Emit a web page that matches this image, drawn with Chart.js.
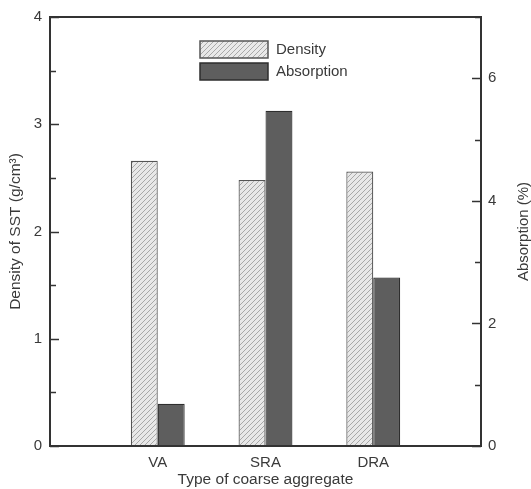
<!DOCTYPE html>
<html>
<head>
<meta charset="utf-8">
<script src="https://cdn.jsdelivr.net/npm/chart.js@4.4.1/dist/chart.umd.min.js"></script>
<style>
  html, body { margin: 0; padding: 0; background: #fff; }
  #wrap { width: 531px; height: 489px; position: relative; }
</style>
</head>
<body>
<div id="wrap"><canvas id="chart"></canvas></div>
<script>
// données
const categories = ['VA', 'SRA', 'DRA'];
const densityValues = [2.66, 2.48, 2.56];       // g/cm3, axe gauche
const absorptionValues = [0.69, 5.47, 2.75];    // %, axe droit
const densityTicks = [0, 1, 2, 3, 4];
const absorptionTicks = [0, 2, 4, 6];

// une case vide de chaque côté pour caler les groupes comme sur l'original
const labels = [''].concat(categories, ['']);
function pad(values) {
  return [null].concat(values, [null]);
}

// motif hachuré pour la densité
function makeHatch() {
  var c = document.createElement('canvas');
  c.width = 5;
  c.height = 5;
  var g = c.getContext('2d');
  g.fillStyle = '#e8e8e8';
  g.fillRect(0, 0, 5, 5);
  g.strokeStyle = '#a8a8a8';
  g.lineWidth = 1;
  g.beginPath();
  g.moveTo(0, 5); g.lineTo(5, 0);
  g.moveTo(-1, 1); g.lineTo(1, -1);
  g.moveTo(4, 6); g.lineTo(6, 4);
  g.stroke();
  return g.createPattern(c, 'repeat');
}

const hatch = makeHatch();
const axisColor = '#333';
const textColor = '#3a3a3a';
const fontFamily = '"Liberation Sans", Arial, sans-serif';

// cadre, graduations vers l'intérieur, légende et titre de droite
const framePlugin = {
  id: 'frame',
  afterDraw(chart) {
    const ctx = chart.ctx;
    const a = chart.chartArea;
    ctx.save();
    ctx.strokeStyle = axisColor;
    ctx.lineWidth = 2;
    ctx.strokeRect(a.left, a.top, a.right - a.left, a.bottom - a.top);

    ctx.lineWidth = 1.5;
    chart.scales.y.ticks.forEach(t => {
      const py = Math.round(chart.scales.y.getPixelForValue(t.value)) + 0.5;
      const len = densityTicks.includes(t.value) ? 9 : 6;
      ctx.beginPath();
      ctx.moveTo(a.left, py);
      ctx.lineTo(a.left + len, py);
      ctx.stroke();
    });
    chart.scales.y1.ticks.forEach(t => {
      const py = Math.round(chart.scales.y1.getPixelForValue(t.value)) + 0.5;
      const len = absorptionTicks.includes(t.value) ? 9 : 6;
      ctx.beginPath();
      ctx.moveTo(a.right, py);
      ctx.lineTo(a.right - len, py);
      ctx.stroke();
    });

    // légende
    const lx = a.left + 150;
    const items = [
      { text: chart.data.datasets[0].label, fill: hatch, border: '#555', top: 41 },
      { text: chart.data.datasets[1].label, fill: '#5e5e5e', border: '#2e2e2e', top: 63 }
    ];
    ctx.font = '15px ' + fontFamily;
    ctx.textBaseline = 'middle';
    ctx.textAlign = 'left';
    items.forEach(it => {
      ctx.fillStyle = it.fill;
      ctx.fillRect(lx, it.top, 68, 17);
      ctx.strokeStyle = it.border;
      ctx.lineWidth = 1.5;
      ctx.strokeRect(lx, it.top, 68, 17);
      ctx.fillStyle = textColor;
      ctx.fillText(it.text, lx + 76, it.top + 9);
    });

    // titre de l'axe droit, lu de bas en haut
    ctx.translate(524, (a.top + a.bottom) / 2);
    ctx.rotate(-Math.PI / 2);
    ctx.textAlign = 'center';
    ctx.font = '15px ' + fontFamily;
    ctx.fillText('Absorption (%)', 0, 0);
    ctx.restore();
  }
};

window.addEventListener('load', function() {
  var ctx = document.getElementById('chart').getContext('2d');
  new Chart(ctx, {
    type: 'bar',
    data: {
      labels: labels,
      datasets: [{
        label: 'Density',
        data: pad(densityValues),
        yAxisID: 'y',
        backgroundColor: hatch,
        borderColor: '#555',
        borderWidth: 1.2,
        categoryPercentage: 0.5,
        barPercentage: 1.0
      }, {
        label: 'Absorption',
        data: pad(absorptionValues),
        yAxisID: 'y1',
        backgroundColor: '#5e5e5e',
        borderColor: '#2e2e2e',
        borderWidth: 1.2,
        categoryPercentage: 0.5,
        barPercentage: 1.0
      }]
    },
    options: {
      responsive: true,
      maintainAspectRatio: false,
      animation: false,
      layout: { padding: { top: 16, left: 0, right: 0, bottom: 0 } },
      plugins: {
        legend: { display: false },
        tooltip: { enabled: false }
      },
      scales: {
        x: {
          offset: false,
          grid: { display: false, drawTicks: false },
          border: { display: false },
          ticks: {
            color: textColor,
            font: { family: fontFamily, size: 15 },
            padding: 8,
            autoSkip: false,
            maxRotation: 0
          },
          title: {
            display: true,
            text: 'Type of coarse aggregate',
            color: textColor,
            font: { family: fontFamily, size: 15.5 },
            padding: { top: 0, bottom: 0 }
          },
          afterFit: function(s) { s.height = 43; }
        },
        y: {
          position: 'left',
          min: 0,
          max: 4,
          grid: { display: false, drawTicks: false },
          border: { display: false },
          ticks: {
            stepSize: 0.5,
            color: textColor,
            font: { family: fontFamily, size: 15 },
            padding: 8,
            callback: function(v) { return densityTicks.includes(v) ? String(v) : ''; }
          },
          title: {
            display: true,
            text: 'Density of SST (g/cm³)',
            color: textColor,
            font: { family: fontFamily, size: 15.5 },
            padding: { top: 6, bottom: 0 }
          },
          afterFit: function(s) { s.width = 50; }
        },
        y1: {
          position: 'right',
          min: 0,
          max: 7,
          grid: { display: false, drawTicks: false },
          border: { display: false },
          ticks: {
            stepSize: 1,
            color: textColor,
            font: { family: fontFamily, size: 15 },
            padding: 7,
            callback: function(v) { return absorptionTicks.includes(v) ? String(v) : ''; }
          },
          afterFit: function(s) { s.width = 50; }
        }
      }
    },
    plugins: [framePlugin]
  });
});
</script>
</body>
</html>
